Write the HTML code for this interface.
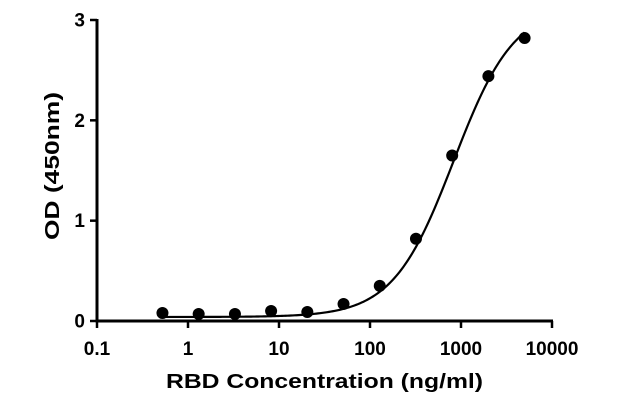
<!DOCTYPE html>
<html><head><meta charset="utf-8"><style>
body{margin:0;background:#fff;}
svg text{font-family:"Liberation Sans",Arial,sans-serif;font-weight:bold;fill:#000;}
</style></head><body>
<svg id="chart" width="634" height="407" xmlns="http://www.w3.org/2000/svg"></svg>
<script>
const concentrations=[0.524,1.31,3.28,8.19,20.48,51.2,128,320,800,2000,5000];
const odValues=[0.08,0.07,0.07,0.10,0.09,0.17,0.35,0.82,1.65,2.44,2.82];
const xTickLabels=["0.1","1","10","100","1000","10000"];
const xTickValues=[0.1,1,10,100,1000,10000];
const yTickValues=[0,1,2,3];
const fitParams=[0.04,3.15,830,1.3]; // bottom, top, EC50, hill

const NS="http://www.w3.org/2000/svg";
const svg=document.getElementById('chart');
const x0=97,x1=552,y0=321,y1=20;
const xs=v=>x0+(Math.log10(v)+1)/5*(x1-x0);
const ys=v=>y0-v/3*(y0-y1);
function mk(tag,attrs,parent){const e=document.createElementNS(NS,tag);for(const k in attrs)e.setAttribute(k,attrs[k]);(parent||svg).appendChild(e);return e;}

let g=mk('g',{});


mk('line',{x1:x0,y1:y1-1,x2:x0,y2:y0+1.5,stroke:'#000','stroke-width':3},g);
yTickValues.forEach(v=>{
  mk('line',{x1:x0-7,y1:ys(v),x2:x0,y2:ys(v),stroke:'#000','stroke-width':2.5},g);
  const t=mk('text',{x:x0-12,y:ys(v)+6.5,'text-anchor':'end','font-size':19},g);
  t.textContent=v;
  
  
});
let ax=mk('g',{});


mk('line',{x1:x0-1,y1:y0,x2:x1+1,y2:y0,stroke:'#000','stroke-width':3},ax);
xTickValues.forEach((v,i)=>{
  mk('line',{x1:xs(v),y1:y0,x2:xs(v),y2:y0+7,stroke:'#000','stroke-width':2.5},ax);
  const t=mk('text',{x:xs(v),y:y0+34,'text-anchor':'middle','font-size':19},ax);
  t.textContent=xTickLabels[i];
  
  
});
let yt=mk('text',{x:0,y:0,'text-anchor':'middle','font-size':20,textLength:148,lengthAdjust:'spacingAndGlyphs',transform:`translate(59,166) rotate(-90)`});
yt.textContent='OD (450nm)';


let xt=mk('text',{x:324.5,y:388,'text-anchor':'middle','font-size':20,textLength:317,lengthAdjust:'spacingAndGlyphs'});
xt.textContent='RBD Concentration (ng/ml)';



const [b,tp,ec,h]=fitParams;
let d='';
for(let i=0;i<=200;i++){
  const lv=Math.log10(concentrations[0])+i/200*(Math.log10(concentrations[concentrations.length-1])-Math.log10(concentrations[0]));
  const c=Math.pow(10,lv);
  const y=b+(tp-b)/(1+Math.pow(ec/c,h));
  d+=(i?'L':'M')+xs(c).toFixed(2)+','+ys(y).toFixed(2);
}
let curve=mk('path',{d:d,fill:'none',stroke:'#000','stroke-width':2.2});


concentrations.forEach((c,i)=>{
  const p=mk('circle',{cx:xs(c),cy:ys(odValues[i]),r:6,fill:'#000'});
  
  
});
</script>
</body></html>
